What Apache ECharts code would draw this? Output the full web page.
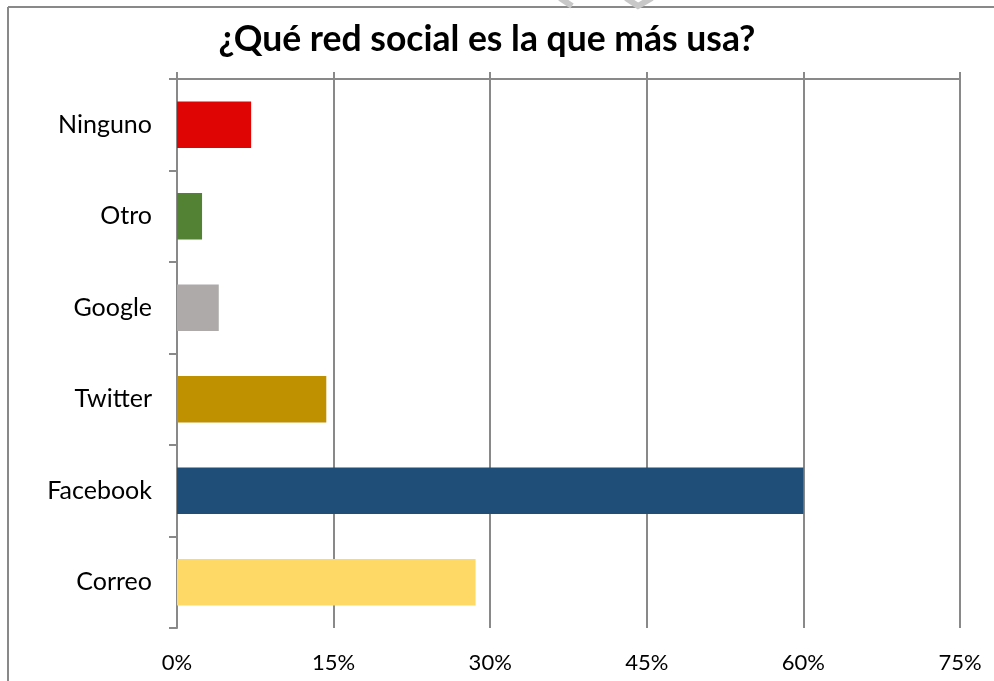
<!DOCTYPE html>
<html>
<head>
<meta charset="utf-8">
<script src="https://cdn.jsdelivr.net/npm/echarts@6/dist/echarts.min.js"></script>
<style>html,body{margin:0;padding:0;background:#fff}#c{width:994px;height:681px}</style>
</head>
<body>
<div id="c"></div>
<script>
var titleText = '¿Qué red social es la que más usa?';
var categories = ['Ninguno', 'Otro', 'Google', 'Twitter', 'Facebook', 'Correo'];
var values = [7.1, 2.4, 4.0, 14.3, 60.0, 28.6];
var barColors = ['#E00505', '#548235', '#AEAAAA', '#BF9000', '#1F4E79', '#FFD966'];
var tickValues = [0, 15, 30, 45, 60, 75];

var chart = echarts.init(document.getElementById('c'));
var gridCol = '#898989';
chart.setOption({
  animation: false,
  textStyle: { fontFamily: 'Lato' },
  title: {
    text: titleText, left: 482, top: 17, textAlign: 'center',
    textStyle: { fontFamily: 'Lato', fontWeight: 'bold', fontSize: 35.5, color: '#000' }
  },
  grid: { left: 177, right: 34, top: 79, bottom: 53 },
  xAxis: [{
    type: 'value', position: 'top', min: 0, max: 75, interval: 15,
    axisLine: { show: true, lineStyle: { color: gridCol, width: 2 } },
    axisTick: { show: true, length: 7, lineStyle: { color: gridCol, width: 2 } },
    axisLabel: { show: false },
    splitLine: { show: true, lineStyle: { color: gridCol, width: 2 } }
  }, {
    type: 'value', position: 'bottom', min: 0, max: 75, interval: 15,
    axisLine: { show: false }, axisTick: { show: false }, splitLine: { show: false },
    axisLabel: { show: true, margin: 24, fontSize: 22, color: '#000', fontFamily: 'Lato',
      formatter: function (v) { return v + '%'; } }
  }],
  yAxis: {
    type: 'category', data: categories, inverse: true,
    axisLine: { show: true, lineStyle: { color: gridCol, width: 2 } },
    axisTick: { show: true, length: 8, lineStyle: { color: gridCol, width: 2 } },
    axisLabel: { margin: 25, fontSize: 25, color: '#000', fontFamily: 'Lato' }
  },
  series: [{
    type: 'bar', xAxisIndex: 0, barCategoryGap: '49%',
    data: values.map(function (v, i) { return { value: v, itemStyle: { color: barColors[i] } }; })
  }],
  graphic: [
    { type: 'line', shape: { x1: 8, y1: 7, x2: 994, y2: 7 }, style: { stroke: gridCol, lineWidth: 2 } },
    { type: 'line', shape: { x1: 8, y1: 7, x2: 8, y2: 681 }, style: { stroke: gridCol, lineWidth: 2 } },
    { type: 'polyline', shape: { points: [[560, -2], [572, 6]] }, style: { stroke: '#c8c8c8', lineWidth: 6, fill: null } },
    { type: 'polyline', shape: { points: [[626, -2], [638, 6], [652, -2]] }, style: { stroke: '#c8c8c8', lineWidth: 6, fill: null } }
  ]
});
</script>
</body>
</html>
